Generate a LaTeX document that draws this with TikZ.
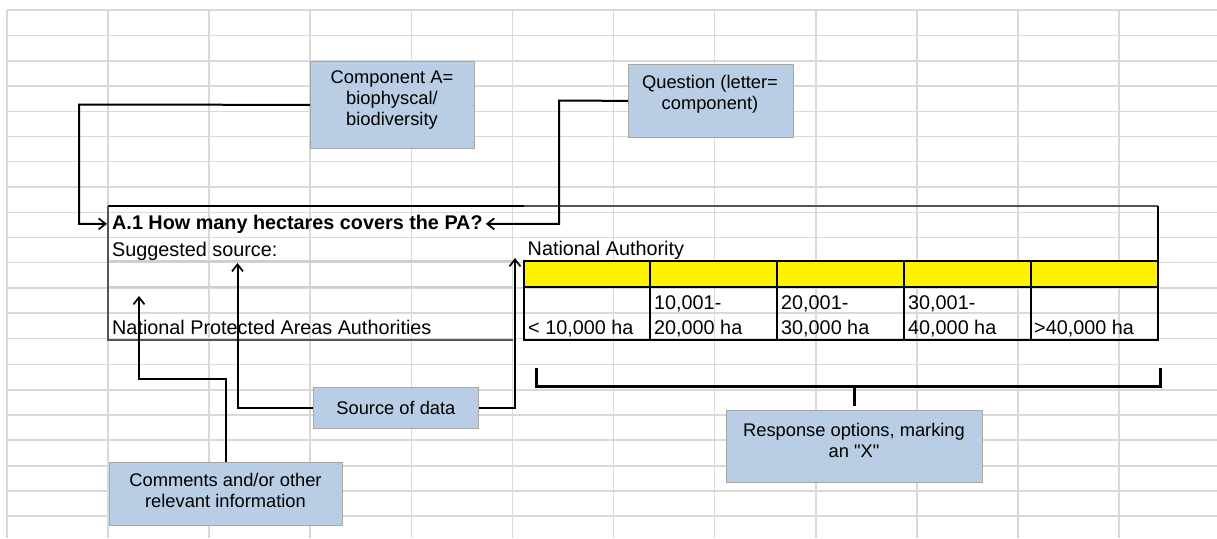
\documentclass[tikz,border=0pt]{standalone}
\usepackage{fontspec}
\setmainfont{Liberation Sans}[Ligatures=TeXOff]
\usetikzlibrary{arrows.meta}
\definecolor{gridc}{HTML}{D9D9D9}
\definecolor{boxfill}{HTML}{B9CDE5}
\definecolor{boxline}{HTML}{A6A6A6}
\definecolor{tabgray}{HTML}{555555}
\definecolor{thickgray}{HTML}{CFCFCF}
\begin{document}
\begin{tikzpicture}[x=1pt,y=-1pt,
  gridline/.style={draw=gridc,line width=1.5pt},
  callout/.style={draw=boxline,fill=boxfill,line width=0.8pt,inner sep=0pt,anchor=north west},
  callouttext/.style={font=\fontsize{18.3}{21}\selectfont,align=center,inner sep=0pt,anchor=north},
  cell/.style={font=\fontsize{19.8}{21}\selectfont,inner sep=0pt,anchor=base west},
  conn/.style={draw=black,line width=2pt},
  arr/.style={conn,-{Straight Barb[length=7pt,width=11pt,line width=1.7pt]}},
  bracketline/.style={draw=black,line width=3pt,line join=miter},
  tabline/.style={draw=black,line width=1.7pt},
]
\useasboundingbox (0,0) rectangle (1217,538);
\fill[white] (0,0) rectangle (1217,538);
% spreadsheet grid
\foreach \y in {10,35.5,61,86,111.5,136.5,161.5,187,212.5,237.5,262.5,288,313,338.5,364.5,390,415,440,466,491,516}
  \draw[gridline] (7,\y) -- (1217,\y);
\foreach \x in {7,108,209,310,411.5,512.5,613.6,714.7,815.8,917,1018,1119}
  \draw[gridline] (\x,10) -- (\x,538);
% question table
\draw[thickgray,line width=2.6pt] (108,261.5) -- (513,261.5) (108,287) -- (513,287);
\draw[black,line width=1.8pt] (108,206) -- (524,206);
\draw[tabgray,line width=1.3pt] (524,206) -- (1158,206);
\draw[tabgray,line width=1.3pt] (108,206) -- (108,340) -- (513,340);
\fill[yellow] (524,261) rectangle (1158,287);
\draw[tabline] (524,261) rectangle (1158,340);
\draw[tabline] (524,287) -- (1158,287);
\foreach \x in {650,777,904,1031} \draw[tabline] (\x,261) -- (\x,340);
\draw[black,line width=2.2pt] (1158,206) -- (1158,340);
% table texts
\node[cell,font=\fontsize{19.8}{21}\selectfont\bfseries] (title) at (112,229) {A.1 How many hectares covers the PA?};
\node[cell] (sugg) at (112,256) {Suggested source:};
\node[cell] (npaa) at (112,334.3) {National Protected Areas Authorities};
\node[cell] (natauth) at (527.5,255.5) {National Authority};
\node[cell] (r1) at (528,334.5) {< 10,000 ha};
\node[cell] (r2a) at (654,309) {10,001-};
\node[cell] (r2b) at (654,334.5) {20,000 ha};
\node[cell] (r3a) at (781,309) {20,001-};
\node[cell] (r3b) at (781,334.5) {30,000 ha};
\node[cell] (r4a) at (908,309) {30,001-};
\node[cell] (r4b) at (908,334.5) {40,000 ha};
\node[cell] (r5) at (1034,334.5) {>40,000 ha};
% callout boxes
\node[callout,minimum width=164pt,minimum height=87pt] (c1) at (310,61) {};
\node[callouttext] (c1t) at (392,71) {Component A=\\biophyscal/\\biodiversity};
\node[callout,minimum width=165pt,minimum height=73pt] (c2) at (628,64) {};
\node[callouttext] (c2t) at (710,75) {Question (letter=\\component)};
\node[callout,minimum width=165pt,minimum height=41pt] (c3) at (313,387) {};
\node[callouttext,anchor=center] (c3t) at (c3.center) {Source of data};
\node[callout,minimum width=233pt,minimum height=63pt] (c4) at (109,462) {};
\node[callouttext] (c4t) at (225.5,473.5) {Comments and/or other\\relevant information};
\node[callout,minimum width=256pt,minimum height=72pt] (c5) at (726,410) {};
\node[callouttext] (c5t) at (854,423.5) {Response options, marking\\an "X"};
% arrow targets
\coordinate (tipA) at (237.5,263);
\coordinate (tipB) at (515,258);
\coordinate (tipC) at (139,296);
\coordinate (brL) at (536.6,368);
\coordinate (brR) at (1160.7,368);
% connectors
\draw[arr] (c1.west) -- (79,104.5) |- ([xshift=-5pt]title.west);
\draw[arr] (c2.west) -- (559,100.5) |- ([xshift=3pt]title.east);
\draw[arr] (c3.west) -| (tipA);
\draw[arr] (c3.east) -| (tipB);
\draw[arr] (c4.north) -- (c4.north |- 0,378.5) -| (tipC);
\draw[bracketline] (brL) -- (brL |- 0,386) -- (brR |- 0,386) -- (brR);
\draw[bracketline] (c5.north |- 0,386) -- ([yshift=4pt]c5.north);
\end{tikzpicture}
\end{document}
